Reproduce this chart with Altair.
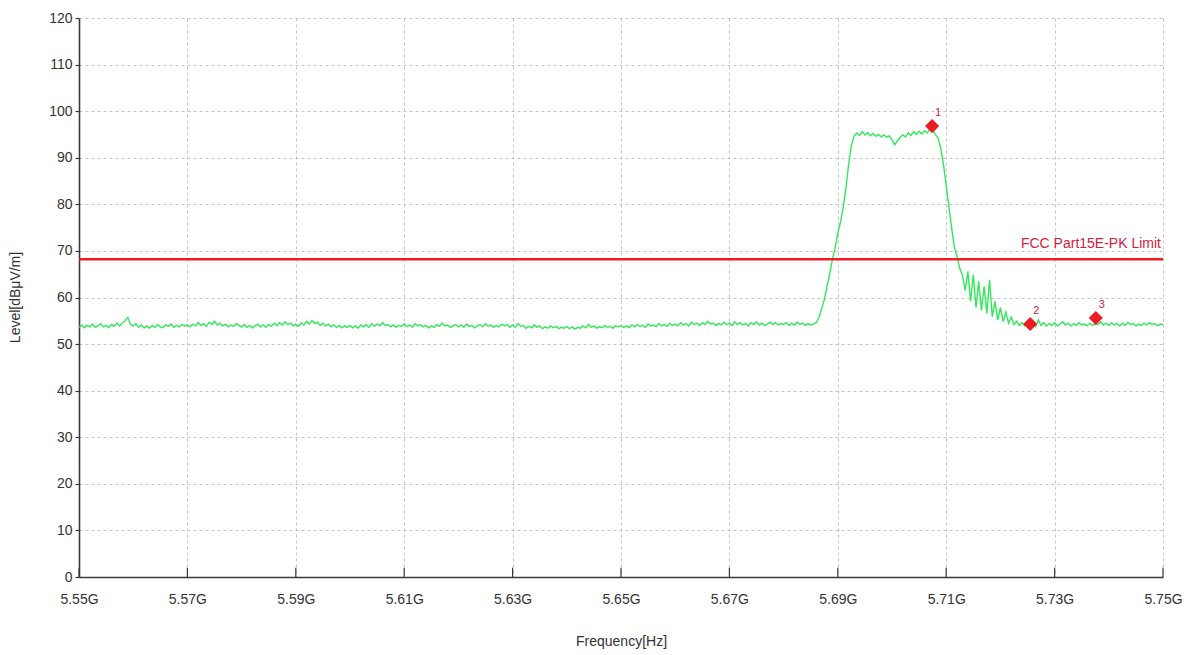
import altair as alt
import pandas as pd

# ---- sweep definition (GHz) ----
f_start = 5.55
f_step = 0.0005

# ---- measured level [dBuV/m], one row per 0.01 GHz (20 points each) ----
levels = [
    # 5.550
    53.6, 54.1, 53.5, 54.0, 53.7, 54.3, 53.6, 53.9, 54.4, 53.7, 54.0, 53.5, 54.2, 53.8, 54.5, 53.9, 54.6, 55.0, 55.7, 54.2,
    # 5.560
    53.9, 54.4, 53.6, 54.1, 53.5, 53.9, 53.4, 54.0, 53.6, 54.2, 53.7, 53.5, 54.1, 53.8, 54.3, 53.6, 54.0, 53.7, 54.2, 53.9,
    # 5.570
    54.1, 53.7, 54.3, 53.9, 54.6, 54.0, 54.4, 53.8, 54.7, 54.2, 54.9, 54.1, 54.5, 53.9, 54.3, 53.7, 54.1, 53.8, 54.4, 54.0,
    # 5.580
    53.7, 54.2, 53.6, 54.0, 53.5, 53.9, 54.3, 53.7, 54.1, 53.6, 54.2, 53.8, 54.5, 54.0, 54.6, 54.1, 54.8, 54.2, 54.5, 53.9,
    # 5.590
    54.3, 53.8, 54.6, 54.1, 54.9, 54.3, 55.1, 54.4, 54.7, 54.0, 54.5, 53.9, 54.3, 53.7, 54.1, 53.6, 54.0, 53.5, 53.9, 53.6,
    # 5.600
    54.0, 53.5, 53.9, 53.4, 54.1, 53.7, 54.2, 53.6, 54.4, 53.8, 54.3, 53.9, 54.6, 54.0, 54.2, 53.7, 54.1, 53.6, 54.0, 53.8,
    # 5.610
    54.3, 53.7, 54.1, 53.6, 54.4, 53.9, 54.2, 53.7, 54.0, 53.5, 53.9, 53.6, 54.2, 53.8, 54.5, 53.9, 54.1, 53.6, 53.9, 54.2,
    # 5.620
    53.7, 54.1, 53.6, 54.3, 53.8, 54.0, 53.5, 53.9, 54.2, 53.7, 54.4, 53.8, 54.1, 53.6, 54.0, 53.7, 54.3, 53.9, 54.2, 53.6,
    # 5.630
    54.1, 53.6, 54.4, 53.8, 54.0, 53.4, 53.8, 53.5, 54.1, 53.6, 53.9, 53.3, 53.7, 53.4, 53.9, 53.5, 53.8, 53.3, 53.6, 53.4,
    # 5.640
    53.8, 53.3, 53.7, 53.2, 53.6, 53.4, 53.9, 53.5, 54.2, 53.6, 53.9, 53.4, 53.7, 53.5, 54.0, 53.6, 53.8, 53.4, 53.9, 53.7,
    # 5.650
    54.0, 53.6, 53.9, 53.5, 54.1, 53.7, 54.2, 53.8, 54.0, 53.6, 54.3, 53.9, 54.1, 53.7, 54.4, 53.9, 54.2, 53.8, 54.5, 54.0,
    # 5.660
    54.3, 53.9, 54.6, 54.1, 54.4, 53.9, 54.7, 54.2, 54.5, 54.0, 54.6, 54.2, 54.9, 54.3, 54.5, 54.0, 54.4, 54.1, 54.7, 54.2,
    # 5.670
    54.5, 54.0, 54.8, 54.2, 54.6, 54.1, 54.4, 53.9, 54.6, 54.2, 54.8, 54.1, 54.5, 54.0, 54.3, 54.7, 54.2, 54.6, 54.1, 54.4,
    # 5.680
    54.2, 54.6, 54.0, 54.5, 54.1, 54.7, 54.2, 54.5, 54.0, 54.4, 54.1, 54.3, 54.6, 55.6, 57.5, 59.5, 62.3, 65.0, 68.2, 70.6,
    # 5.690
    73.8, 76.2, 79.4, 83.5, 88.6, 92.6, 94.6, 95.3, 94.8, 95.6, 94.9, 95.4, 94.7, 95.2, 94.6, 95.0, 94.5, 94.9, 94.4, 94.7,
    # 5.700
    93.9, 92.8, 93.6, 94.4, 94.9, 94.5, 95.3, 94.8, 95.6, 95.0, 95.7, 95.1, 95.8, 95.3, 96.2, 96.0, 95.0, 94.2, 92.0, 88.6,
    # 5.710
    84.0, 79.5, 75.0, 70.8, 68.8, 66.2, 64.8, 61.5, 65.6, 59.2, 64.9, 57.8, 63.5, 57.2, 62.4, 56.6, 63.8, 55.9, 59.2, 55.2,
    # 5.720
    57.8, 54.8, 56.9, 54.5, 55.8, 54.2, 54.9, 54.0, 54.6, 53.9, 54.5, 54.1, 54.7, 53.8, 55.2, 54.0, 54.6, 53.9, 54.4, 54.0,
    # 5.730
    54.6, 53.9, 54.3, 54.8, 54.1, 54.5, 53.9, 54.4, 54.0, 54.6, 54.1, 54.3, 53.9, 54.5, 54.0, 54.4, 54.2, 54.8, 54.1, 54.5,
    # 5.740
    54.0, 54.6, 54.1, 54.4, 53.9, 54.5, 54.0, 54.7, 54.2, 54.4, 53.9, 54.3, 54.0, 54.5, 54.1, 54.6, 54.2, 54.4, 53.9, 54.3,
    # 5.750
    54.2,
]

# ---- limit line ----
limit_value = 68.2
limit_label = "FCC Part15E-PK Limit"

# ---- markers ----
marker_ids = ["1", "2", "3"]
marker_freq = [5.7074, 5.7255, 5.7376]
marker_level = [96.8, 54.3, 55.6]

# ---- axes ----
x_ticks = [5.55, 5.57, 5.59, 5.61, 5.63, 5.65, 5.67, 5.69, 5.71, 5.73, 5.75]
y_ticks = [0, 10, 20, 30, 40, 50, 60, 70, 80, 90, 100, 110, 120]
x_title = "Frequency[Hz]"
y_title = "Level[dBμV/m]"

FONT = "'Liberation Sans Narrow', 'Arial Narrow', 'Liberation Sans', Arial, sans-serif"
GREEN = "#33e85a"
RED = "#ec1c24"
TEXT_RED = "#d4213d"
AXIS_COL = "#3a3a3a"

trace = pd.DataFrame({
    "freq": [round(f_start + f_step * i, 5) for i in range(len(levels))],
    "level": levels,
})
markers = pd.DataFrame({"id": marker_ids, "freq": marker_freq, "level": marker_level})
limit_df = pd.DataFrame({"level": [limit_value], "freq": [x_ticks[-1]], "label": [limit_label]})
tick_df = pd.DataFrame({"freq": x_ticks, "y0": [0] * len(x_ticks), "y1": [2.0] * len(x_ticks)})

xscale = alt.Scale(domain=[5.55, 5.75], nice=False, zero=False)
yscale = alt.Scale(domain=[0, 120], nice=False)

x_axis = alt.Axis(
    values=x_ticks, labelExpr="format(datum.value, '.2f') + 'G'", title=x_title,
    ticks=False, labelPadding=15, titleY=57, titleBaseline="top", labelFlush=False,
)
y_axis = alt.Axis(
    values=y_ticks, title=y_title, tickSize=4, labelPadding=3, labelFlush=False,
    titleAngle=270, titleX=-64, titleY=279, titleBaseline="middle", titleAlign="center",
    titleFont="'Liberation Sans', Arial, sans-serif", titleFontSize=14,
)

line = alt.Chart(trace).mark_line(color=GREEN, strokeWidth=1.4, interpolate="linear").encode(
    x=alt.X("freq:Q", scale=xscale, axis=x_axis),
    y=alt.Y("level:Q", scale=yscale, axis=y_axis),
)

inner_ticks = alt.Chart(tick_df).mark_rule(color=AXIS_COL, strokeWidth=1.2).encode(
    x=alt.X("freq:Q", scale=xscale),
    y=alt.Y("y0:Q", scale=yscale),
    y2="y1:Q",
)

limit_rule = alt.Chart(limit_df).mark_rule(color=RED, strokeWidth=2.5).encode(
    y=alt.Y("level:Q", scale=yscale),
)

limit_text = alt.Chart(limit_df).mark_text(
    align="right", baseline="bottom", dx=-2, dy=-8, fontSize=14, font=FONT, color=TEXT_RED,
).encode(
    x=alt.X("freq:Q", scale=xscale),
    y=alt.Y("level:Q", scale=yscale),
    text="label:N",
)

marker_pts = alt.Chart(markers).mark_point(
    shape="diamond", filled=True, color=RED, size=200, opacity=1,
).encode(
    x=alt.X("freq:Q", scale=xscale),
    y=alt.Y("level:Q", scale=yscale),
)

marker_txt = alt.Chart(markers).mark_text(
    align="left", baseline="middle", dx=3, dy=-13, fontSize=11, font=FONT, color=TEXT_RED,
).encode(
    x=alt.X("freq:Q", scale=xscale),
    y=alt.Y("level:Q", scale=yscale),
    text="id:N",
)

chart = alt.layer(line, inner_ticks, limit_rule, limit_text, marker_pts, marker_txt).properties(
    width=1084, height=559,
    autosize=alt.AutoSizeParams(type="none"),
    padding={"left": 71, "top": 10, "right": 20, "bottom": 72},
    background="white",
).configure_view(
    strokeWidth=0,
).configure_axis(
    labelFont=FONT, labelFontSize=14, labelColor="#333333",
    titleFont=FONT, titleFontSize=14, titleColor="#333333", titleFontWeight="normal",
    domainColor=AXIS_COL, domainWidth=1.6,
    tickColor=AXIS_COL, tickWidth=1.2,
    gridColor="#c4c4c4", gridDash=[3, 3], gridWidth=1,
)

chart.save("out.html", embed_options={"renderer": "svg", "actions": False})
